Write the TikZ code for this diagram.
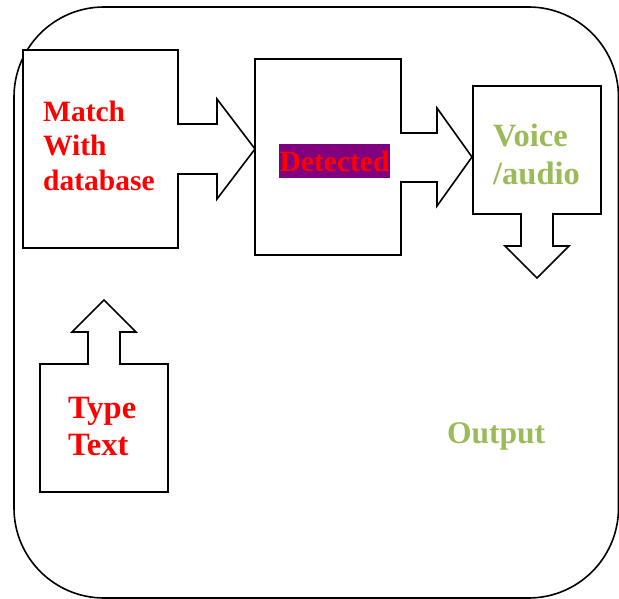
\documentclass[tikz,border=0pt]{standalone}
\usepackage{fontspec}
\setmainfont{Liberation Serif}
\definecolor{txtred}{HTML}{FF0000}
\definecolor{txtgreen}{HTML}{9BBB59}
\definecolor{bgpurple}{HTML}{800080}
\begin{document}
\begin{tikzpicture}[x=1pt,y=-1pt,
  shapeline/.style={draw=black,line width=1.6pt,line join=miter,fill=white},
  lbl/.style={inner sep=0pt,anchor=base west,font=\bfseries\fontsize{29.5}{34}\selectfont},
  biglbl/.style={inner sep=0pt,anchor=base west,font=\bfseries\fontsize{32.5}{38}\selectfont},
  redlbl/.style={lbl,text=txtred},
  redbig/.style={biglbl,text=txtred},
  greenlbl/.style={biglbl,text=txtgreen}]
\useasboundingbox (0,0) rectangle (619,599);
% outer rounded frame
\draw[line width=1.6pt,rounded corners=90pt] (14,7) rectangle (618.5,598);
% Match box with right arrow
\draw[shapeline] (23,50) -- (178,50) -- (178,124) -- (217,124) -- (217,99) -- (255,149)
  -- (217,199) -- (217,174) -- (178,174) -- (178,248) -- (23,248) -- cycle;
% Detected box with right arrow
\draw[shapeline] (255,59) -- (401,59) -- (401,133) -- (437,133) -- (437,108) -- (472,157)
  -- (437,206) -- (437,182) -- (401,182) -- (401,255) -- (255,255) -- cycle;
% Voice box with down arrow
\draw[shapeline] (473,86) -- (601,86) -- (601,214) -- (553,214) -- (553,246) -- (569,246)
  -- (537,278) -- (505,246) -- (521,246) -- (521,214) -- (473,214) -- cycle;
% Type text box with up arrow
\draw[shapeline] (40,364) -- (88,364) -- (88,332) -- (72,332) -- (104,300) -- (136,332)
  -- (120,332) -- (120,364) -- (168,364) -- (168,492) -- (40,492) -- cycle;
% labels
\node[redlbl] (match1) at (43,122) {Match};
\node[redlbl] (match2) at (43,156) {With};
\node[redlbl] (match3) at (43,190) {database};
\node[redlbl,fill=bgpurple,text height=27.5pt,text depth=7pt,inner xsep=0.5pt] (detected) at (279,171.5) {Detected};
\node[greenlbl] (voice1) at (493,147) {Voice};
\node[greenlbl] (voice2) at (493,185) {/audio};
\node[redbig] (type1) at (68,418) {Type};
\node[redbig] (type2) at (68,455) {Text};
\node[greenlbl,font=\bfseries\fontsize{31.5}{36}\selectfont] (output) at (447,443) {Output};
\end{tikzpicture}
\end{document}
